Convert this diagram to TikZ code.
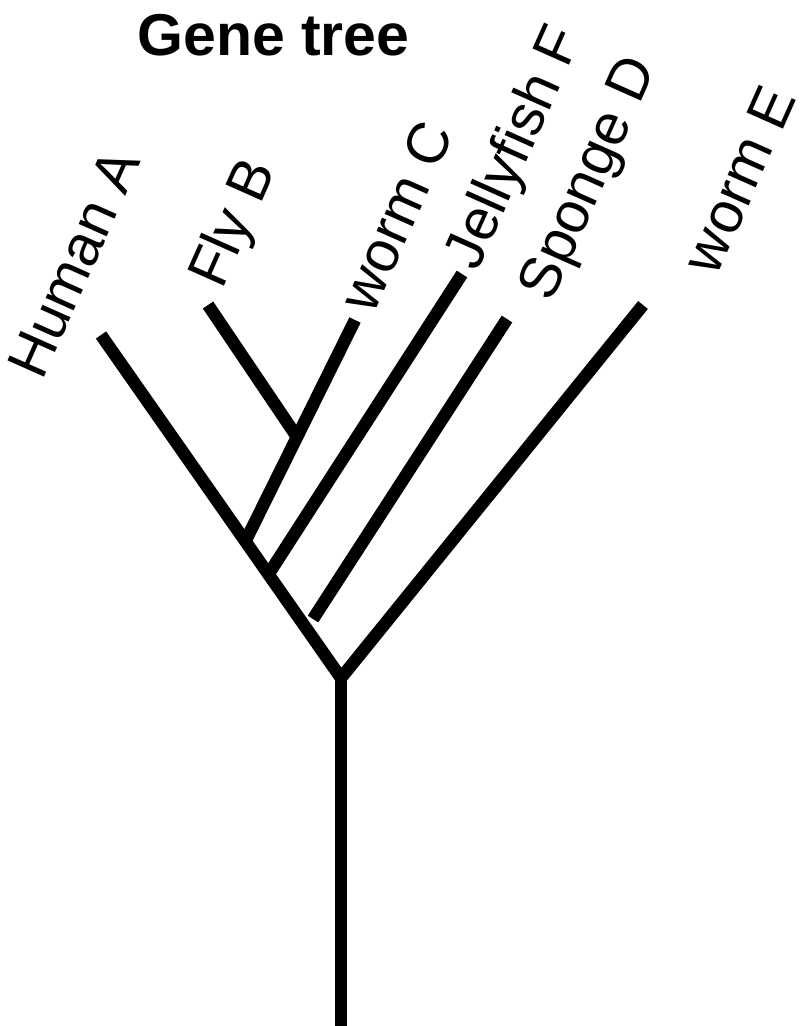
\documentclass[tikz,border=0pt]{standalone}
\usepackage{fontspec}
\setmainfont{Liberation Sans}
\begin{document}
\begin{tikzpicture}[x=1pt,y=-1pt,
  branch/.style={line width=12.5pt, line cap=butt, line join=miter},
  leaf/.style={font=\fontsize{58}{60}\selectfont, rotate=66, anchor=center,
    inner sep=0pt, text height=41.5pt, text depth=0pt},
  heading/.style={font=\bfseries\fontsize{59}{60}\selectfont, anchor=base, inner sep=0pt}]
\useasboundingbox (0,0) rectangle (800,1026);

% tree coordinates
\coordinate (base) at (341,1026);
\coordinate (root) at (341,678);
\coordinate (tipA) at (101,335);
\coordinate (tipE) at (643,305);
\coordinate (tipD) at (507,319);
\coordinate (endD) at (313,619);
\coordinate (tipF) at (462,274);
\coordinate (joinF) at (268,575);
\coordinate (tipC) at (355,320);
\coordinate (joinC) at (246,540);
\coordinate (tipB) at (208,305);
\coordinate (joinB) at (297,437);

% branches
\draw[branch] (base) -- (root);
\draw[branch] (tipA) -- (root) -- (tipE);
\draw[branch] (endD) -- (tipD);
\draw[branch] (joinF) -- (tipF);
\draw[branch] (joinC) -- (tipC);
\draw[branch] (joinB) -- (tipB);

% title and leaf labels
\node[heading] (title) at (273.5,55) {Gene tree};
\node[leaf] (labA) at (73,263) {Human A};
\node[leaf] (labB) at (230,222) {Fly B};
\node[leaf] (labC) at (395,216) {worm C};
\node[leaf] (labF) at (511,146) {Jellyfish F};
\node[leaf] (labD) at (585,177) {Sponge D};
\node[leaf] (labE) at (738,179) {worm E};
\end{tikzpicture}
\end{document}
